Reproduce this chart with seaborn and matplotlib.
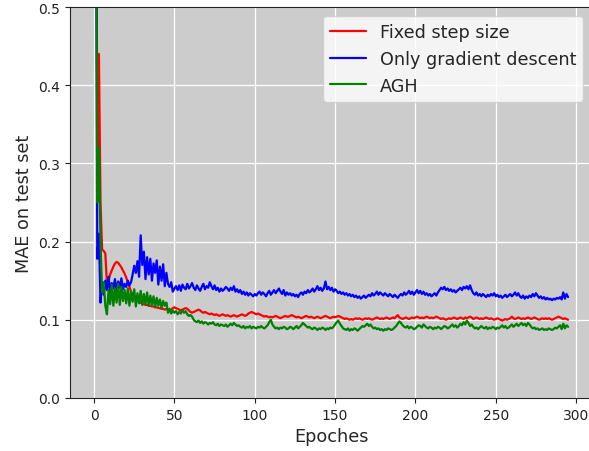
import numpy as np
import pandas as pd
import matplotlib
matplotlib.use("Agg")
import matplotlib.pyplot as plt
import seaborn as sns

epochs = list(range(1, 296))

mae_fixed = [
    0.90, 0.32, 0.44, 0.25, 0.19, 0.188, 0.185, 0.146, 0.150, 0.158,
    0.163, 0.168, 0.172, 0.174, 0.173, 0.170, 0.167, 0.163, 0.159, 0.154,
    0.148, 0.142, 0.136, 0.132, 0.129, 0.127, 0.125, 0.123, 0.122, 0.121,
    0.120, 0.119, 0.119, 0.118, 0.118, 0.117, 0.117, 0.116, 0.116, 0.115,
    0.115, 0.114, 0.114, 0.113, 0.114, 0.113, 0.112, 0.113, 0.115, 0.116,
    0.115, 0.114, 0.113, 0.112, 0.113, 0.114, 0.115, 0.114, 0.112, 0.110,
    0.109, 0.110, 0.111, 0.112, 0.113, 0.112, 0.110, 0.109, 0.110, 0.109,
    0.108, 0.107, 0.108, 0.107, 0.106, 0.107, 0.106, 0.105, 0.106, 0.107,
    0.106, 0.105, 0.106, 0.105, 0.104, 0.105, 0.106, 0.105, 0.104, 0.105,
    0.106, 0.107, 0.106, 0.105, 0.106, 0.108, 0.109, 0.110, 0.109, 0.108,
    0.107, 0.108, 0.107, 0.106, 0.105, 0.104, 0.105, 0.104, 0.103, 0.104,
    0.103, 0.104, 0.105, 0.104, 0.103, 0.102, 0.103, 0.104, 0.105, 0.104,
    0.104, 0.105, 0.106, 0.105, 0.104, 0.103, 0.104, 0.103, 0.102, 0.103,
    0.104, 0.105, 0.104, 0.103, 0.104, 0.103, 0.102, 0.103, 0.104, 0.103,
    0.102, 0.103, 0.104, 0.105, 0.104, 0.103, 0.102, 0.103, 0.104, 0.103,
    0.104, 0.105, 0.104, 0.103, 0.102, 0.101, 0.102, 0.101, 0.100, 0.101,
    0.100, 0.101, 0.102, 0.101, 0.102, 0.101, 0.100, 0.101, 0.102, 0.101,
    0.102, 0.101, 0.100, 0.101, 0.102, 0.103, 0.102, 0.101, 0.102, 0.101,
    0.102, 0.103, 0.102, 0.101, 0.102, 0.103, 0.102, 0.104, 0.106, 0.103,
    0.102, 0.101, 0.102, 0.103, 0.102, 0.101, 0.102, 0.103, 0.102, 0.103,
    0.104, 0.103, 0.102, 0.103, 0.102, 0.103, 0.104, 0.103, 0.102, 0.103,
    0.102, 0.103, 0.104, 0.103, 0.102, 0.101, 0.102, 0.101, 0.100, 0.101,
    0.102, 0.101, 0.102, 0.103, 0.102, 0.101, 0.102, 0.103, 0.102, 0.101,
    0.103, 0.102, 0.103, 0.104, 0.103, 0.101, 0.102, 0.103, 0.102, 0.101,
    0.102, 0.101, 0.102, 0.103, 0.102, 0.101, 0.102, 0.101, 0.100, 0.101,
    0.102, 0.101, 0.100, 0.099, 0.100, 0.101, 0.100, 0.101, 0.102, 0.104,
    0.102, 0.101, 0.102, 0.103, 0.102, 0.101, 0.102, 0.101, 0.102, 0.103,
    0.102, 0.101, 0.102, 0.103, 0.102, 0.101, 0.100, 0.101, 0.102, 0.101,
    0.102, 0.101, 0.102, 0.101, 0.100, 0.101, 0.102, 0.103, 0.104, 0.103,
    0.102, 0.101, 0.102, 0.101, 0.100,
]

mae_gd_only = [
    0.90, 0.178, 0.210, 0.122, 0.148, 0.132, 0.150, 0.138, 0.155, 0.135,
    0.147, 0.140, 0.152, 0.136, 0.149, 0.141, 0.153, 0.139, 0.146, 0.142,
    0.150, 0.144, 0.148, 0.158, 0.169, 0.160, 0.175, 0.155, 0.208, 0.170,
    0.187, 0.152, 0.180, 0.158, 0.178, 0.150, 0.172, 0.160, 0.176, 0.145,
    0.168, 0.150, 0.171, 0.143, 0.160, 0.146, 0.142, 0.148, 0.136, 0.140,
    0.143, 0.138, 0.144, 0.137, 0.145, 0.141, 0.139, 0.146, 0.140, 0.143,
    0.147, 0.141, 0.138, 0.144, 0.140, 0.137, 0.142, 0.146, 0.139, 0.143,
    0.141, 0.148, 0.143, 0.139, 0.144, 0.138, 0.141, 0.136, 0.140, 0.137,
    0.139, 0.142, 0.140, 0.137, 0.141, 0.138, 0.143, 0.136, 0.139, 0.135,
    0.138, 0.133, 0.136, 0.132, 0.135, 0.131, 0.134, 0.132, 0.130, 0.133,
    0.131, 0.134, 0.136, 0.132, 0.135, 0.133, 0.130, 0.134, 0.137, 0.132,
    0.135, 0.138, 0.134, 0.137, 0.140, 0.136, 0.133, 0.138, 0.131, 0.135,
    0.132, 0.134, 0.131, 0.133, 0.130, 0.132, 0.129, 0.133, 0.135, 0.132,
    0.136, 0.134, 0.138, 0.135, 0.137, 0.140, 0.136, 0.139, 0.143, 0.138,
    0.141, 0.137, 0.140, 0.149, 0.139, 0.142, 0.138, 0.141, 0.136, 0.139,
    0.137, 0.134, 0.136, 0.133, 0.135, 0.132, 0.134, 0.131, 0.133, 0.130,
    0.132, 0.129, 0.131, 0.128, 0.130, 0.127, 0.129, 0.131, 0.128, 0.130,
    0.132, 0.130, 0.134, 0.131, 0.133, 0.136, 0.132, 0.135, 0.133, 0.131,
    0.134, 0.132, 0.130, 0.133, 0.131, 0.129, 0.132, 0.130, 0.128, 0.131,
    0.133, 0.131, 0.135, 0.132, 0.134, 0.137, 0.133, 0.136, 0.132, 0.135,
    0.138, 0.134, 0.137, 0.133, 0.136, 0.132, 0.134, 0.131, 0.133, 0.130,
    0.132, 0.134, 0.131, 0.135, 0.138, 0.141, 0.139, 0.142, 0.138, 0.140,
    0.137, 0.139, 0.136, 0.138, 0.135, 0.137, 0.139, 0.141, 0.138, 0.142,
    0.140, 0.143, 0.139, 0.144, 0.138, 0.134, 0.132, 0.135, 0.131, 0.133,
    0.130, 0.133, 0.131, 0.129, 0.132, 0.130, 0.133, 0.131, 0.134, 0.130,
    0.132, 0.129, 0.131, 0.128, 0.130, 0.132, 0.129, 0.131, 0.133, 0.130,
    0.132, 0.135, 0.131, 0.134, 0.130, 0.128, 0.131, 0.127, 0.130, 0.128,
    0.131, 0.129, 0.133, 0.130, 0.134, 0.131, 0.128, 0.130, 0.127, 0.129,
    0.126, 0.128, 0.126, 0.127, 0.125, 0.127, 0.126, 0.128, 0.127, 0.129,
    0.126, 0.135, 0.127, 0.133, 0.129,
]

mae_agh = [
    0.90, 0.250, 0.320, 0.200, 0.135, 0.148, 0.118, 0.107, 0.138, 0.120,
    0.145, 0.118, 0.140, 0.122, 0.146, 0.119, 0.142, 0.124, 0.138, 0.121,
    0.140, 0.118, 0.136, 0.123, 0.139, 0.117, 0.134, 0.121, 0.137, 0.119,
    0.133, 0.120, 0.135, 0.118, 0.131, 0.119, 0.130, 0.116, 0.128, 0.118,
    0.126, 0.115, 0.124, 0.118, 0.122, 0.109, 0.114, 0.108, 0.112, 0.109,
    0.111, 0.107, 0.110, 0.108, 0.112, 0.109, 0.111, 0.107, 0.105, 0.106,
    0.104, 0.100, 0.098, 0.097, 0.099, 0.096, 0.098, 0.095, 0.097, 0.096,
    0.094, 0.096, 0.095, 0.097, 0.094, 0.093, 0.095, 0.092, 0.094, 0.093,
    0.092, 0.094, 0.091, 0.093, 0.095, 0.093, 0.096, 0.094, 0.092, 0.093,
    0.091, 0.090, 0.092, 0.089, 0.091, 0.090, 0.092, 0.089, 0.091, 0.090,
    0.089, 0.091, 0.090, 0.092, 0.090, 0.089, 0.091, 0.093, 0.097, 0.100,
    0.094, 0.091, 0.089, 0.090, 0.088, 0.090, 0.089, 0.091, 0.090, 0.088,
    0.089, 0.091, 0.090, 0.088, 0.090, 0.092, 0.089, 0.091, 0.093, 0.096,
    0.094, 0.092, 0.090, 0.091, 0.089, 0.088, 0.090, 0.089, 0.087, 0.089,
    0.088, 0.090, 0.089, 0.087, 0.089, 0.088, 0.090, 0.089, 0.091, 0.094,
    0.097, 0.099, 0.095, 0.092, 0.089, 0.088, 0.087, 0.089, 0.086, 0.088,
    0.087, 0.089, 0.088, 0.086, 0.088, 0.090, 0.092, 0.091, 0.093, 0.095,
    0.092, 0.094, 0.091, 0.089, 0.090, 0.088, 0.089, 0.087, 0.088, 0.086,
    0.088, 0.087, 0.089, 0.088, 0.087, 0.088, 0.090, 0.092, 0.095, 0.098,
    0.096, 0.093, 0.091, 0.090, 0.092, 0.089, 0.091, 0.090, 0.088, 0.089,
    0.091, 0.093, 0.092, 0.090, 0.094, 0.092, 0.090, 0.089, 0.091, 0.090,
    0.088, 0.090, 0.089, 0.091, 0.090, 0.088, 0.090, 0.092, 0.091, 0.089,
    0.090, 0.092, 0.094, 0.091, 0.093, 0.090, 0.092, 0.095, 0.093, 0.097,
    0.094, 0.099, 0.096, 0.092, 0.094, 0.091, 0.089, 0.090, 0.088, 0.090,
    0.092, 0.090, 0.089, 0.091, 0.088, 0.090, 0.089, 0.091, 0.090, 0.088,
    0.090, 0.089, 0.091, 0.093, 0.090, 0.092, 0.089, 0.090, 0.092, 0.094,
    0.091, 0.093, 0.095, 0.092, 0.094, 0.096, 0.093, 0.095, 0.092, 0.096,
    0.094, 0.091, 0.089, 0.090, 0.088, 0.089, 0.087, 0.088, 0.089, 0.087,
    0.088, 0.087, 0.089, 0.088, 0.087, 0.088, 0.090, 0.089, 0.091, 0.093,
    0.088, 0.095, 0.089, 0.093, 0.091,
]

series_names = ["Fixed step size", "Only gradient descent", "AGH"]
series_colors = ["red", "blue", "green"]

df = pd.DataFrame({
    "Epoches": epochs * 3,
    "MAE": mae_fixed + mae_gd_only + mae_agh,
    "Method": sum([[n] * len(epochs) for n in series_names], []),
})

sns.set_style("darkgrid", {
    "axes.facecolor": "#cccccc",
    "grid.color": "white",
    "axes.edgecolor": "#222222",
    "axes.linewidth": 1.0,
    "xtick.bottom": True,
    "ytick.left": True,
    "xtick.color": "#222222",
    "ytick.color": "#222222",
})
plt.rcParams["font.family"] = ["DejaVu Sans"]

fig = plt.figure(figsize=(5.89, 4.52), dpi=100)
ax = fig.add_axes([0.1188, 0.1173, 0.8866, 0.8650])

sns.lineplot(data=df, x="Epoches", y="MAE", hue="Method",
             hue_order=series_names, palette=series_colors,
             linewidth=1.6, ax=ax)

ax.set_xlim(-15, 310)
ax.set_ylim(0, 0.5)
ax.set_xticks([0, 50, 100, 150, 200, 250, 300])
ax.set_yticks([0.0, 0.1, 0.2, 0.3, 0.4, 0.5])
ax.tick_params(labelsize=10, length=3.5, width=0.8)
ax.grid(True, color="white", linewidth=0.9)
for side in ["left", "bottom", "top"]:
    ax.spines[side].set_visible(True)
ax.spines["right"].set_visible(False)

ax.set_xlabel("Epoches", fontsize=12.7)
ax.set_ylabel("MAE on test set", fontsize=12.7)

leg = ax.legend(loc="upper right", fontsize=12.7, frameon=True, framealpha=0.8,
                facecolor="white", edgecolor="#cccccc", fancybox=True)
leg.set_title(None)

fig.savefig("out.png", dpi=100)
